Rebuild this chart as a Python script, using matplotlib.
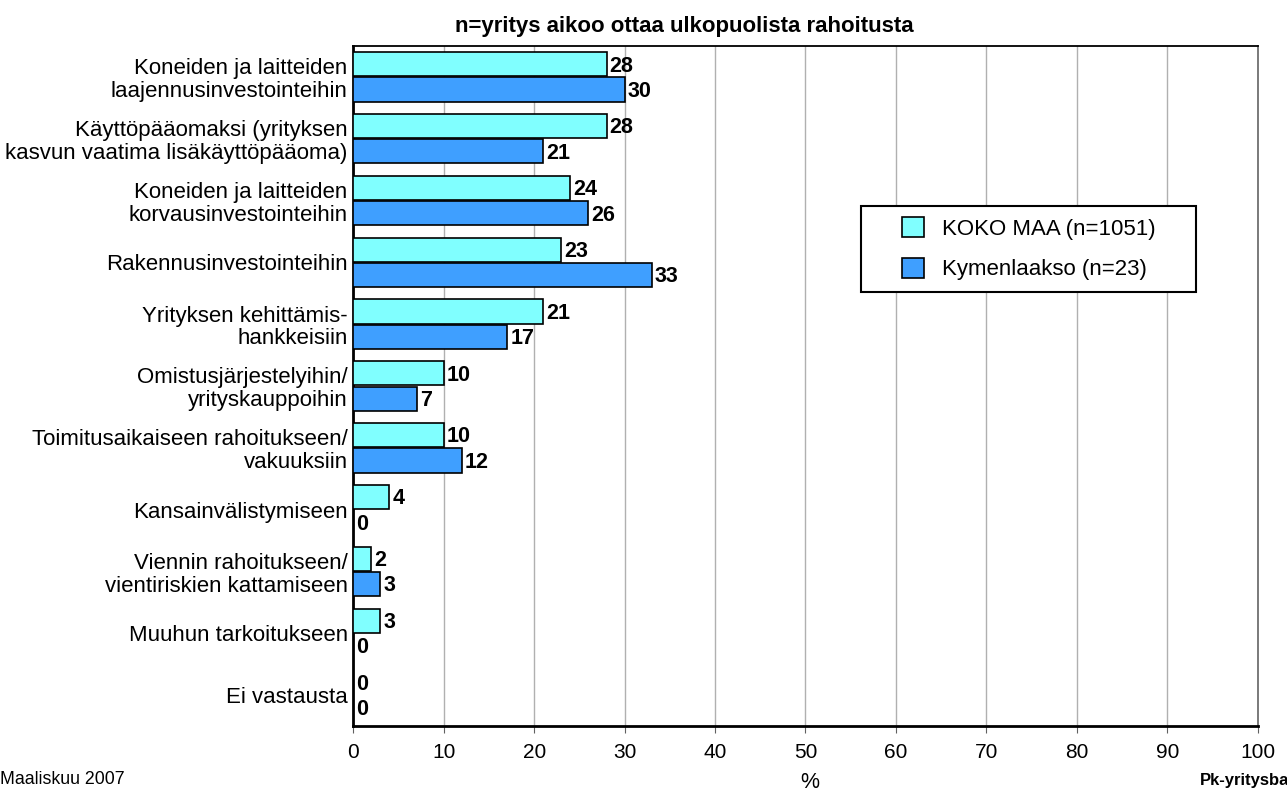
#!/usr/bin/env python3
"""Rahoituksen käyttökohteet: KOKO MAA vs Kymenlaakso."""

import matplotlib
matplotlib.use("Agg")
import matplotlib.pyplot as plt
from matplotlib.patches import Rectangle
import numpy as np

categories = [
    "Koneiden ja laitteiden\nlaajennusinvestointeihin",
    "Käyttöpääomaksi (yrityksen\nkasvun vaatima lisäkäyttöpääoma)",
    "Koneiden ja laitteiden\nkorvausinvestointeihin",
    "Rakennusinvestointeihin",
    "Yrityksen kehittämis-\nhankkeisiin",
    "Omistusjärjestelyihin/\nyrityskauppoihin",
    "Toimitusaikaiseen rahoitukseen/\nvakuuksiin",
    "Kansainvälistymiseen",
    "Viennin rahoitukseen/\nvientiriskien kattamiseen",
    "Muuhun tarkoitukseen",
    "Ei vastausta",
]
koko_maa = [28, 28, 24, 23, 21, 10, 10, 4, 2, 3, 0]
kymenlaakso = [30, 21, 26, 33, 17, 7, 12, 0, 3, 0, 0]
series_names = ["KOKO MAA (n=1051)", "Kymenlaakso (n=23)"]
colors = ["#80FFFF", "#3F9FFF"]

plt.rcParams["font.family"] = ["Liberation Sans", "DejaVu Sans"]

fig = plt.figure(figsize=(12.87, 7.91), dpi=100)
ax = fig.add_axes([0.2745, 0.0822, 0.7027, 0.8597])

y = np.arange(len(categories))
h = 0.39
b1 = ax.barh(y - h / 2 - 0.01, koko_maa, height=h, color=colors[0],
             edgecolor="black", linewidth=1.2, label=series_names[0], zorder=3)
b2 = ax.barh(y + h / 2 + 0.01, kymenlaakso, height=h, color=colors[1],
             edgecolor="black", linewidth=1.2, label=series_names[1], zorder=3)

for bars, vals in ((b1, koko_maa), (b2, kymenlaakso)):
    for bar, v in zip(bars, vals):
        ax.text(v + 0.35, bar.get_y() + bar.get_height() / 2 + 0.03, str(v),
                ha="left", va="center", fontsize=15.5, fontweight="bold")

ax.set_xlim(0, 100)
ax.set_ylim(len(categories) - 0.5, -0.5)
ax.set_xticks(range(0, 101, 10))
ax.set_yticks(y)
ax.set_yticklabels(categories, fontsize=16, linespacing=1.1)
ax.tick_params(axis="y", length=0, pad=4)
ax.tick_params(axis="x", labelsize=15, direction="out", length=5,
               color="#606060", pad=7)
ax.xaxis.grid(True, color="#b0b0b0", linewidth=1, zorder=0)
for s in ax.spines.values():
    s.set_color("black")
    s.set_linewidth(1.3)
ax.spines["left"].set_linewidth(2)
ax.spines["bottom"].set_linewidth(2)
ax.spines["right"].set_color("#707070")

# legend: own frame, handles placed inside
ax.add_patch(Rectangle((0.5614, 0.6382), 0.3704, 0.1265, transform=ax.transAxes,
                       facecolor="white", edgecolor="black", linewidth=1.5,
                       zorder=5, clip_on=False))
leg = ax.legend(loc="center left", bbox_to_anchor=(0.6067, 0.7015), fontsize=16,
                frameon=False, handlelength=1.0, handleheight=1.0, borderpad=0,
                labelspacing=0.8, handletextpad=0.8, borderaxespad=0)
leg.set_zorder(6)

fig.text(0.532, 0.967, "n=yritys aikoo ottaa ulkopuolista rahoitusta",
         ha="center", va="center", fontsize=16, fontweight="bold")
fig.text(0.6295, -0.002, "%", ha="center", va="bottom", fontsize=15.5)
fig.text(0.0, 0.004, "Maaliskuu 2007", ha="left", va="bottom", fontsize=12.8)
fig.text(0.932, 0.004, "Pk-yritysbarometri", ha="left", va="bottom",
         fontsize=12, fontweight="bold")

fig.savefig("out.png", dpi=100)
